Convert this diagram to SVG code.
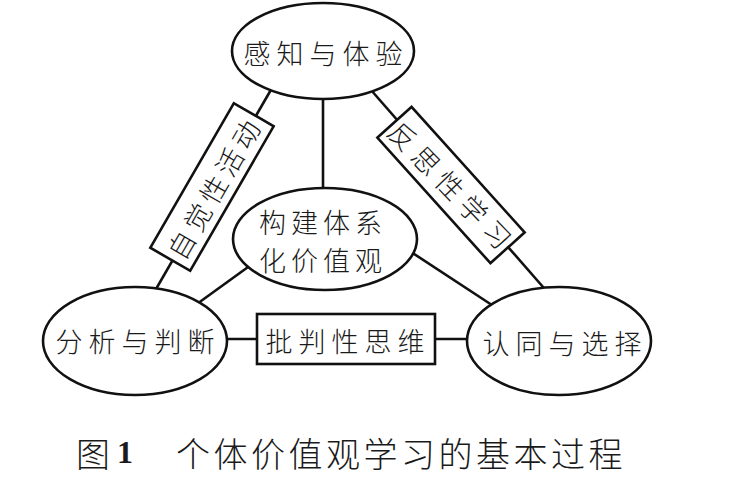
<svg xmlns="http://www.w3.org/2000/svg" width="737" height="497" viewBox="0 0 737 497">
<style>
.n{fill:#fff;stroke:#111;stroke-width:2.6}
.c{stroke:#111;stroke-width:2.6;fill:none}
.t{font-family:"Noto Sans CJK SC","Noto Sans CJK TC",sans-serif;font-size:27px;fill:#1a1a1a;text-anchor:middle;dominant-baseline:central;font-weight:300}
.cap{font-family:"Noto Sans CJK SC",sans-serif;font-size:34px;fill:#1a1a1a;dominant-baseline:central;font-weight:300}
</style>
<rect width="737" height="497" fill="#fff"/>
<g id="connectors">
<line class="c" x1="272" y1="88" x2="152" y2="296"/>
<line class="c" x1="371" y1="90" x2="550" y2="295"/>
<line class="c" x1="323" y1="95" x2="323" y2="195"/>
<line class="c" x1="190" y1="309" x2="255" y2="262"/>
<line class="c" x1="405" y1="248" x2="498" y2="309"/>
<line class="c" x1="220" y1="339" x2="470" y2="339"/>
</g>
<g id="label-left">
<rect class="n" x="-83.5" y="-23" width="167" height="46" transform="translate(212 187) rotate(-60)"/>
<text class="t" transform="translate(214 187) rotate(-60)" letter-spacing="5">自觉性活动</text>
</g>
<g id="label-right">
<rect class="n" x="-84.5" y="-23" width="169" height="46" transform="translate(451 185) rotate(48)"/>
<text class="t" transform="translate(453 187) rotate(46)" letter-spacing="7">反思性学习</text>
</g>
<g id="label-bottom">
<rect class="n" x="257" y="314" width="178" height="50"/>
<text class="t" x="348" y="340" letter-spacing="6">批判性思维</text>
</g>
<g id="node-top">
<ellipse class="n" cx="323" cy="51" rx="91" ry="48"/>
<text class="t" x="326" y="52" letter-spacing="6">感知与体验</text>
</g>
<g id="node-center">
<ellipse class="n" cx="325" cy="239" rx="92" ry="51"/>
<text class="t" x="323" y="221" letter-spacing="5">构建体系</text>
<text class="t" x="323" y="259" letter-spacing="5">化价值观</text>
</g>
<g id="node-left">
<ellipse class="n" cx="135" cy="341" rx="92" ry="54"/>
<text class="t" x="138" y="340" letter-spacing="6">分析与判断</text>
</g>
<g id="node-right">
<ellipse class="n" cx="559" cy="341" rx="92" ry="54"/>
<text class="t" x="565" y="342" letter-spacing="6">认同与选择</text>
</g>
<g id="caption">
<text class="cap" x="76" y="452" font-size="32">图</text>
<text x="117" y="452" font-family="'Liberation Serif',serif" font-size="32" font-weight="bold" fill="#1a1a1a" dominant-baseline="central">1</text>
<text class="cap" x="176" y="452" letter-spacing="3.5">个体价值观学习的基本过程</text>
</g>
</svg>
